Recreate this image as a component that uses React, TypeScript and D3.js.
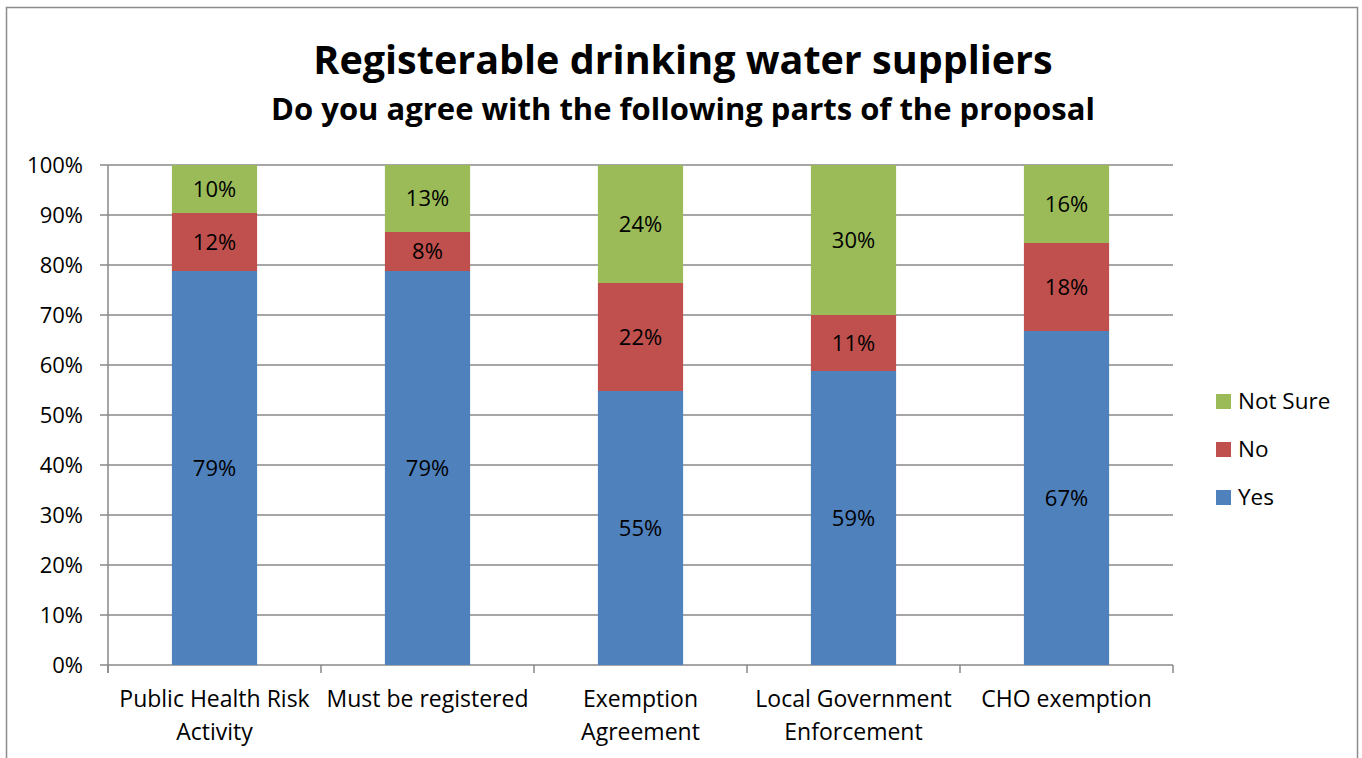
import React from "react";
import * as d3 from "d3";

const categories = [
  ["Public Health Risk", "Activity"],
  ["Must be registered"],
  ["Exemption", "Agreement"],
  ["Local Government", "Enforcement"],
  ["CHO exemption"],
];
const seriesNames = ["Yes", "No", "Not Sure"];
const yesValues = [78.8, 78.8, 54.8, 58.8, 66.8];
const noValues = [11.6, 7.8, 21.6, 11.2, 17.6];
const notSureValues = [9.6, 13.4, 23.6, 30.0, 15.6];
const colors = ["#4F81BD", "#C0504D", "#9BBB59"];
const yTicks = [0, 10, 20, 30, 40, 50, 60, 70, 80, 90, 100];

const FONT = "'Open Sans', Lato, sans-serif";

export default function App() {
  const W = 1362, H = 758;
  const left = 108, right = 1173, top = 165, bottom = 665;
  const x = d3.scaleBand<number>().domain(d3.range(categories.length)).range([left, right]).paddingInner(0).paddingOuter(0);
  const y = d3.scaleLinear().domain([0, 100]).range([bottom, top]);
  const table = categories.map((_, i) => ({ i, Yes: yesValues[i], No: noValues[i], "Not Sure": notSureValues[i] }));
  const stack = d3.stack<any>().keys(seriesNames)(table);
  const bw = x.bandwidth() * 0.4;

  return (
    <svg width={W} height={H} style={{ display: "block", position: "absolute", left: 0, top: 0 }} fontFamily={FONT}>
      <rect x={0} y={0} width={W} height={H} fill="#fff" />
      <rect x={6.5} y={7.5} width={1351} height={800} fill="none" stroke="#8c8c8c" strokeWidth={1.5} />
      <text x={683} y={74} textAnchor="middle" fontSize={39.5} fontWeight="bold" fill="#000">Registerable drinking water suppliers</text>
      <text x={683} y={120} textAnchor="middle" fontSize={31} fontWeight="bold" fill="#000">Do you agree with the following parts of the proposal</text>
      {yTicks.map(t => (
        <g key={t}>
          <line x1={100} x2={right} y1={y(t)} y2={y(t)} stroke="#898989" strokeWidth={1.5} />
          <text x={83} y={y(t) + 7.5} textAnchor="end" fontSize={22} fill="#000">{t}%</text>
        </g>
      ))}
      <line x1={left} x2={left} y1={top} y2={bottom + 8} stroke="#898989" strokeWidth={1.5} />
      {d3.range(categories.length + 1).map(i => {
        const xx = i < categories.length ? x(i)! : right;
        return <line key={i} x1={xx} x2={xx} y1={bottom} y2={bottom + 8} stroke="#898989" strokeWidth={1.5} />;
      })}
      {stack.map((s, si) => (
        <g key={si}>
          {s.map((d, i) => {
            const cx = x(i)! + x.bandwidth() / 2;
            const y0 = y(d[0]), y1 = y(d[1]);
            return (
              <g key={i}>
                <rect x={cx - bw / 2} y={y1} width={bw} height={y0 - y1} fill={colors[si]} />
                <text x={cx} y={(y0 + y1) / 2 + 7.5} textAnchor="middle" fontSize={22} fill="#000">{Math.round(d[1] - d[0])}%</text>
              </g>
            );
          })}
        </g>
      ))}
      {categories.map((lines, i) => (
        <text key={i} x={x(i)! + x.bandwidth() / 2} y={707} textAnchor="middle" fontSize={23} fill="#000">
          {lines.map((l, li) => (
            <tspan key={li} x={x(i)! + x.bandwidth() / 2} dy={li === 0 ? 0 : 33}>{l}</tspan>
          ))}
        </text>
      ))}
      {[2, 1, 0].map((si, k) => (
        <g key={si}>
          <rect x={1216} y={394 + k * 48} width={15} height={15} fill={colors[si]} />
          <text x={1238} y={409 + k * 48} fontSize={22.5} fill="#000">{seriesNames[si]}</text>
        </g>
      ))}
    </svg>
  );
}
